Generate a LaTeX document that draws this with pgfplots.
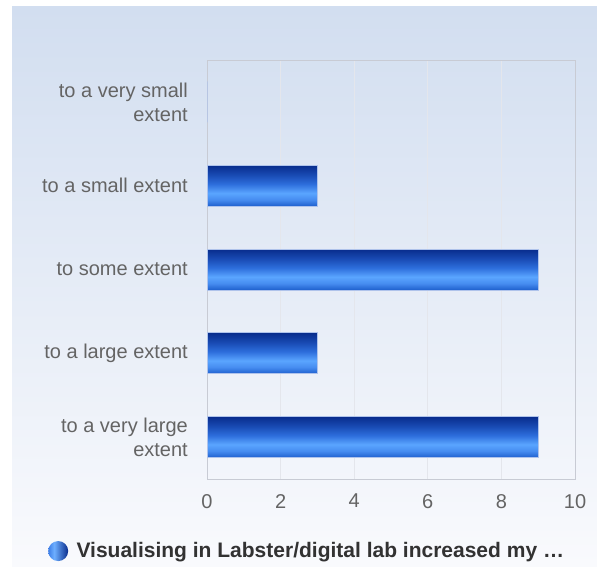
\documentclass[border=0pt]{standalone}
\usepackage{fontspec}
\setmainfont{Liberation Sans}
\usepackage{pgfplots}
\pgfplotsset{compat=1.18}
\definecolor{bgtop}{RGB}{210,222,240}
\definecolor{bgbot}{RGB}{249,250,253}
\definecolor{bbot}{RGB}{30,95,205}
\definecolor{bl1}{RGB}{70,140,240}
\definecolor{blight}{RGB}{90,165,255}
\definecolor{bm1}{RGB}{45,110,220}
\definecolor{bm2}{RGB}{25,75,180}
\definecolor{bdark}{RGB}{8,44,140}
\definecolor{barborder}{RGB}{175,195,235}
\definecolor{ticktext}{RGB}{100,100,100}
\definecolor{titletext}{RGB}{50,50,50}
\definecolor{framec}{RGB}{200,203,212}
\definecolor{gridc}{RGB}{228,230,236}
\definecolor{ballleft}{RGB}{60,125,230}
\definecolor{balllight}{RGB}{110,175,255}
\pgfdeclareverticalshading{barshade}{100bp}{color(0bp)=(bbot); color(25bp)=(bbot); color(33bp)=(bl1); color(41bp)=(blight); color(52bp)=(bm1); color(63bp)=(bm2); color(75bp)=(bdark); color(100bp)=(bdark)}
\pgfdeclarehorizontalshading{ballshade}{100bp}{color(0bp)=(ballleft); color(25bp)=(ballleft); color(40bp)=(balllight); color(75bp)=(bdark); color(100bp)=(bdark)}
\begin{document}
\begin{tikzpicture}
\fill[white] (0,0) rectangle (597pt,566pt);
\shade[top color=bgtop, bottom color=bgbot] (12pt,0) rectangle (597pt,559pt);
\useasboundingbox (0,0) rectangle (597pt,566pt);
\begin{axis}[
  at={(207pt,87pt)}, anchor=south west,
  scale only axis, width=368pt, height=419pt,
  xmin=0, xmax=10, ymin=-0.5, ymax=4.5,
  xtick={0,2,4,6,8,10}, ytick={0,1,2,3,4},
  yticklabels={{to a very large\\extent},{to a large extent},{to some extent},{to a small extent},{to a very small\\extent}},
  yticklabel style={align=right, font=\fontsize{20}{24}\selectfont, text=ticktext, inner sep=0pt, xshift=-19pt},
  xticklabel style={font=\fontsize{20}{24}\selectfont, text=ticktext, inner sep=0pt, yshift=-15pt},
  /pgf/number format/assume math mode=true,
  major tick length=0pt,
  xmajorgrids, grid style={gridc, line width=1pt},
  axis line style={framec, line width=1pt},
  legend style={at={(0.272,-0.172)}, anchor=center, draw=none, fill=none,
    font=\bfseries\fontsize{21}{25}\selectfont, text=titletext},
  legend image code/.code={\shade[draw=none, shading=ballshade] (10pt,0pt) circle (10pt);\path (26pt,0pt);},
  every axis plot/.append style={xbar, bar width=41pt, bar shift=0pt, draw=barborder, line width=0.8pt, shade, shading=barshade},
]
\addplot[xbar, draw=barborder, mark=none] coordinates {(9,0)};
\addlegendentry{Visualising in Labster/digital lab increased my …}
\addplot[xbar, draw=barborder, mark=none, forget plot] coordinates {(3,1)};
\addplot[xbar, draw=barborder, mark=none, forget plot] coordinates {(9,2)};
\addplot[xbar, draw=barborder, mark=none, forget plot] coordinates {(3,3)};
\addplot[xbar, draw=barborder, mark=none, forget plot] coordinates {(0,4)};
\end{axis}
\end{tikzpicture}
\end{document}
